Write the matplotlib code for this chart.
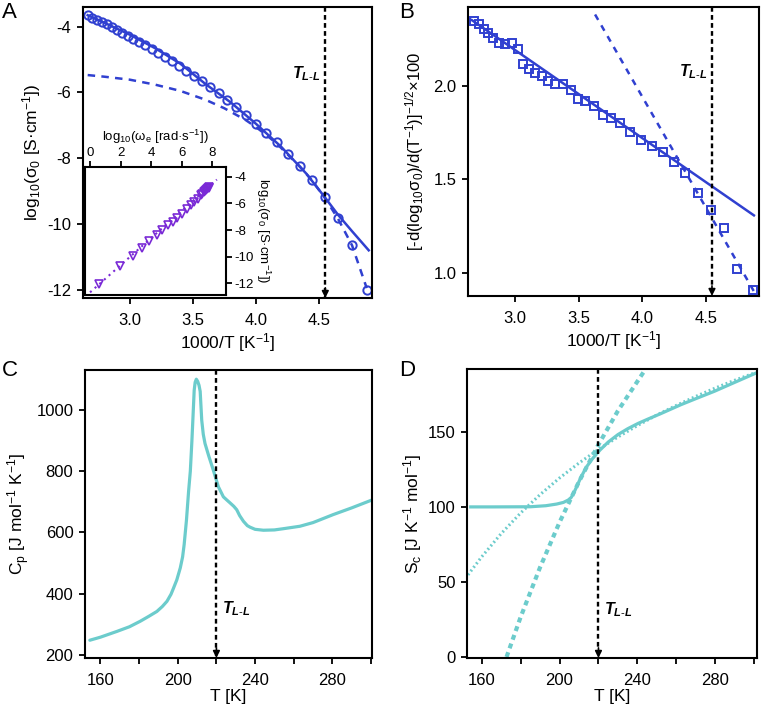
import numpy as np
import matplotlib
matplotlib.use("Agg")
import matplotlib.pyplot as plt

plt.rcParams['font.family'] = ['Liberation Sans', 'DejaVu Sans']
plt.rcParams['mathtext.fontset'] = 'custom'
plt.rcParams['mathtext.rm'] = 'Liberation Sans'
plt.rcParams['mathtext.it'] = 'Liberation Sans:italic:bold'
plt.rcParams['mathtext.bf'] = 'Liberation Sans:bold'
plt.rcParams['axes.unicode_minus'] = False

# ---------- DATA ----------
# A: conductivity vs 1000/T
invT = [2.667, 2.703, 2.740, 2.778, 2.817, 2.857, 2.899, 2.941, 2.985, 3.030,
        3.077, 3.125, 3.175, 3.226, 3.279, 3.333, 3.390, 3.448, 3.509, 3.571,
        3.636, 3.704, 3.774, 3.846, 3.922, 4.000, 4.082, 4.167, 4.255, 4.348,
        4.444, 4.545, 4.651, 4.762, 4.878]
log_sigma = [-3.65, -3.72, -3.79, -3.86, -3.93, -4.01, -4.09, -4.18, -4.27, -4.37,
             -4.47, -4.57, -4.68, -4.80, -4.92, -5.05, -5.19, -5.34, -5.50, -5.66,
             -5.83, -6.02, -6.22, -6.43, -6.68, -6.95, -7.23, -7.52, -7.88, -8.24,
             -8.66, -9.18, -9.82, -10.63, -12.00]
fitA_x = [2.667, 2.8, 3.0, 3.2, 3.4, 3.6, 3.8, 4.0, 4.2, 4.4, 4.545, 4.651, 4.762, 4.894]
fitA_y = [-3.65, -3.88, -4.24, -4.65, -5.12, -5.74, -6.30, -6.95, -7.65, -8.47, -9.18, -9.72, -10.22, -10.80]
dashA_x = [2.667, 2.8, 3.0, 3.2, 3.4, 3.6, 3.75, 3.92, 4.0, 4.082, 4.167, 4.255,
           4.348, 4.444, 4.545, 4.651, 4.762, 4.878]
dashA_y = [-5.47, -5.52, -5.61, -5.76, -5.95, -6.22, -6.48, -6.84, -7.05, -7.29,
           -7.56, -7.90, -8.25, -8.67, -9.20, -9.84, -10.65, -11.95]

# A inset
log_omega = [0.59, 1.99, 2.78, 3.43, 3.87, 4.39, 4.74, 5.11, 5.40, 5.72, 6.01, 6.32,
             6.58, 6.82, 7.04, 7.24, 7.35, 7.46, 7.55, 7.62, 7.67, 7.72, 7.76, 7.80]
log_sigma_in = [-12.10, -10.74, -9.96, -9.33, -8.80, -8.35, -8.00, -7.65, -7.39, -7.06,
                -6.76, -6.45, -6.14, -5.89, -5.63, -5.38, -5.25, -5.13, -5.03, -4.96,
                -4.90, -4.85, -4.80, -4.76]
inset_line_x = [0.0, 8.3]
inset_line_y = [-12.7, -4.2]

# B: derivative analysis
invT_B = [2.681, 2.718, 2.752, 2.786, 2.830, 2.875, 2.922, 2.974, 3.021, 3.065,
          3.112, 3.157, 3.209, 3.261, 3.313, 3.379, 3.444, 3.496, 3.554, 3.619,
          3.692, 3.757, 3.830, 3.906, 3.992, 4.078, 4.162, 4.253, 4.337, 4.441,
          4.540, 4.645, 4.749, 4.875]
deriv_B = [2.346, 2.328, 2.301, 2.283, 2.256, 2.229, 2.220, 2.229, 2.194, 2.113,
           2.086, 2.065, 2.050, 2.023, 2.011, 2.011, 1.978, 1.928, 1.916, 1.892,
           1.844, 1.826, 1.799, 1.751, 1.710, 1.679, 1.647, 1.590, 1.530, 1.427,
           1.333, 1.238, 1.020, 0.907]
fitB_x = [2.66, 4.88]
fitB_y = [2.35, 1.306]
dashB_x = [3.63, 4.88]
dashB_y = [2.38, 0.90]

# C: heat capacity
T_C = [154.5, 160, 168.6, 175, 180.6, 185, 189.2, 192, 194.4, 196.5, 197.8, 199.5,
       201.3, 202.5, 203.3, 204.5, 205.6, 206.5, 207.3, 207.8, 208.5, 209.0, 209.6,
       210.3, 211.0, 211.6, 212.4, 213.2, 214.1, 216.0, 218.4, 221.0, 223.6, 225.5,
       227.1, 229, 230.5, 232, 234.0, 236, 237.4, 240, 244.3, 250, 254.6, 263.2,
       270, 280.4, 290, 301]
Cp = [248, 258, 277, 292, 310, 326, 342, 358, 375, 398, 418, 445,
      484, 520, 560, 640, 734, 800, 897, 966, 1064, 1090, 1100,
      1093, 1080, 1060, 966, 920, 890, 850, 803, 749, 716, 705,
      696, 685, 674, 655, 636, 622, 617, 610, 607, 608, 612, 620,
      632, 658, 680, 707]

# D: configurational entropy
T_D = [154.4, 165, 185, 193, 198.5, 202, 204.5, 206, 207.5, 208.8, 211, 213.9, 217,
       220.8, 225, 230, 235, 240.4, 245.3, 252, 262.4, 270, 279.5, 290, 300.9]
Sc = [100.2, 100.2, 100.3, 101.0, 102.1, 103.2, 104.8, 106.5, 110, 113.7, 120, 127, 132.5,
      138.2, 143.5, 148.5, 152.4, 156, 158.8, 162.5, 168.5, 172.5, 177.4, 183.4, 189.6]
dotD_T = [153, 160, 170, 180, 190, 200, 210, 220, 230, 240, 250, 260, 270, 280, 290, 300]
dotD_S = [54.8, 66.8, 82.3, 96.1, 108.4, 119.5, 129.5, 138.6, 146.9, 154.5, 161.6, 168.0,
          174.0, 179.6, 184.8, 189.6]
dashD_T = [172.8, 180, 190, 200, 210, 220, 230, 243.5]
dashD_S = [0.0, 26.5, 59.8, 89.9, 117.1, 141.8, 164.4, 190.9]

T_LL_inv = 4.55
T_LL = 220

BLUE = '#3040d0'
CYAN = '#6ccccc'
PURPLE = '#7a2ad6'

TICK_FS = 12
LABEL_FS = 12.5

# ---------- FIGURE ----------
fig = plt.figure(figsize=(7.62, 7.15), dpi=100)
W, H = 762, 715


def box(l, t, r, b):
    return [l / W, 1 - b / H, (r - l) / W, (b - t) / H]


def style(ax):
    for s in ax.spines.values():
        s.set_linewidth(1.5)
    ax.tick_params(direction='out', length=4.3, width=1.3, labelsize=TICK_FS, pad=4)
    ax.tick_params(axis='x', pad=6.5)


def tll(ax, x, ylo, yhi, tx, ty):
    ax.plot([x, x], [yhi, ylo], color='k', lw=1.7, ls=(0, (2, 1.4)), zorder=5)
    ax.annotate('', xy=(x, ylo), xytext=(x, ylo + (yhi - ylo) * 0.035),
                arrowprops=dict(arrowstyle='-|>', color='k', lw=1.2,
                                mutation_scale=10, shrinkA=0, shrinkB=0), zorder=6)
    ax.text(tx, ty, r'$T_{L\text{-}L}$', fontsize=11.5, ha='left', va='center')


# ----- A -----
axA = fig.add_axes(box(83, 7, 372, 298))
style(axA)
axA.plot(fitA_x, fitA_y, color=BLUE, lw=1.8)
axA.plot(dashA_x, dashA_y, color=BLUE, lw=1.8, ls=(0, (3, 2.5)))
axA.plot(invT, log_sigma, 'o', ms=6, mfc='none', mec=BLUE, mew=1.4)
axA.set_xlim(2.63, 4.92)
axA.set_ylim(-12.25, -3.4)
axA.set_xticks([3.0, 3.5, 4.0, 4.5])
axA.set_yticks([-4, -6, -8, -10, -12])
axA.set_xlabel(r'1000/T [K$^{-1}$]', fontsize=LABEL_FS, labelpad=2)
axA.set_ylabel(r'log$_{10}$(σ$_0$ [S·cm$^{-1}$])', fontsize=LABEL_FS, labelpad=3)
tll(axA, T_LL_inv, -12.25, -3.4, 4.29, -5.44)

# inset
axI = fig.add_axes(box(85, 167, 226, 295))
for s in axI.spines.values():
    s.set_linewidth(1.5)
axI.plot(inset_line_x, inset_line_y, color=PURPLE, lw=1.5, ls=(0, (1, 2)))
axI.plot(log_omega, log_sigma_in, 'v', ms=5.5, mfc='none', mec=PURPLE, mew=1.2)
axI.set_xlim(-0.33, 8.9)
axI.set_ylim(-12.9, -3.25)
axI.xaxis.tick_top()
axI.xaxis.set_label_position('top')
axI.yaxis.tick_right()
axI.yaxis.set_label_position('right')
axI.set_xticks([0, 2, 4, 6, 8])
axI.set_yticks([-4, -6, -8, -10, -12])
axI.tick_params(direction='out', length=4, width=1.3, labelsize=9.5, pad=2)
axI.set_xlabel(r'log$_{10}$(ω$_\mathrm{e}$ [rad·s$^{-1}$])', fontsize=9.5, labelpad=4)
axI.set_ylabel(r'log$_{10}$(σ$_0$ [S·cm$^{-1}$])', fontsize=9.5, rotation=270,
               labelpad=13)

# ----- B -----
axB = fig.add_axes(box(468, 7, 759, 296))
style(axB)
axB.plot(fitB_x, fitB_y, color=BLUE, lw=1.8)
axB.plot(dashB_x, dashB_y, color=BLUE, lw=1.8, ls=(0, (2.5, 2.5)))
axB.plot(invT_B, deriv_B, 's', ms=6, mfc='none', mec=BLUE, mew=1.4)
axB.set_xlim(2.63, 4.92)
axB.set_ylim(0.875, 2.42)
axB.set_xticks([3.0, 3.5, 4.0, 4.5])
axB.set_yticks([1.0, 1.5, 2.0])
axB.set_xlabel(r'1000/T [K$^{-1}$]', fontsize=LABEL_FS, labelpad=2)
axB.set_ylabel(r'[-d(log$_{10}$σ$_0$)/d(T$^{-1}$)]$^{-1/2}$×100', fontsize=LABEL_FS - 0.5,
               labelpad=5)
tll(axB, T_LL_inv, 0.875, 2.42, 4.29, 2.073)

# ----- C -----
axC = fig.add_axes(box(85, 370, 372, 658))
style(axC)
axC.plot(T_C, Cp, color=CYAN, lw=2.3, solid_capstyle='round')
axC.set_xlim(152, 300.5)
axC.set_ylim(190, 1130)
axC.set_xticks([160, 180, 200, 220, 240, 260, 280, 300])
axC.set_xticklabels(['160', '', '200', '', '240', '', '280', ''])
axC.set_yticks([200, 400, 600, 800, 1000])
axC.set_xlabel('T [K]', fontsize=LABEL_FS, labelpad=1)
axC.set_ylabel(r'C$_\mathrm{p}$ [J mol$^{-1}$ K$^{-1}$]', fontsize=LABEL_FS, labelpad=3)
tll(axC, T_LL, 190, 1130, 222.9, 350)

# ----- D -----
axD = fig.add_axes(box(467, 369, 757, 658))
style(axD)
axD.plot(dotD_T, dotD_S, color=CYAN, lw=2.2, ls=(0, (0.6, 0.9)))
axD.plot(dashD_T, dashD_S, color=CYAN, lw=3.0, ls=(0, (1.2, 1.0)))
axD.plot(T_D, Sc, color=CYAN, lw=2.3)
axD.set_xlim(152.5, 301.4)
axD.set_ylim(-0.7, 192.3)
axD.set_xticks([160, 180, 200, 220, 240, 260, 280, 300])
axD.set_xticklabels(['160', '', '200', '', '240', '', '280', ''])
axD.set_yticks([0, 50, 100, 150])
axD.set_xlabel('T [K]', fontsize=LABEL_FS, labelpad=1)
axD.set_ylabel(r'S$_\mathrm{c}$ [J K$^{-1}$ mol$^{-1}$]', fontsize=LABEL_FS, labelpad=3)
tll(axD, T_LL, -0.7, 192.3, 222.8, 31.7)

# panel letters
for lab, px, py in [('A', 2, 2), ('B', 399, 2), ('C', 2, 360), ('D', 399, 360)]:
    fig.text(px / W, 1 - py / H, lab, fontsize=16, ha='left', va='top')

fig.savefig('out.png', dpi=100)
